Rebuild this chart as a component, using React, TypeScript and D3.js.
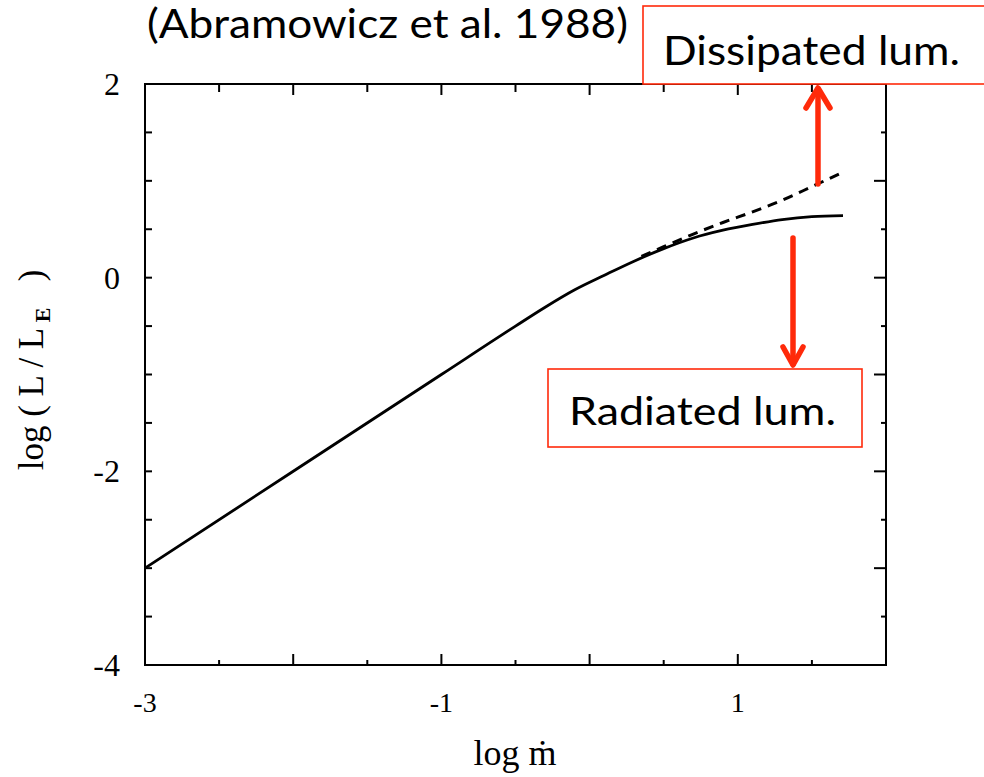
import React from "react";
import * as d3 from "d3";

const solidX = [-3, -1, -0.5, -0.3, -0.1, 0.1, 0.3, 0.5, 0.7, 0.9, 1.1, 1.3, 1.5, 1.71];
const solidY = [-3, -1, -0.5, -0.305, -0.125, 0.025, 0.17, 0.3, 0.41, 0.49, 0.55, 0.6, 0.63, 0.64];
const dashX = [0.35, 0.5, 0.7, 0.9, 1.1, 1.3, 1.5, 1.71];
const dashY = [0.22, 0.32, 0.45, 0.57, 0.68, 0.8, 0.94, 1.09];
const xTickVals = [-3, -2.5, -2, -1.5, -1, -0.5, 0, 0.5, 1, 1.5, 2];
const xTickLabels = ["-3", "-1", "1"];
const yTickVals = [-4, -3.5, -3, -2.5, -2, -1.5, -1, -0.5, 0, 0.5, 1, 1.5, 2];
const yTickLabels = ["-4", "-2", "0", "2"];

const W = 984, H = 777;
const serif = "'Liberation Serif', 'DejaVu Serif', serif";
const sans = "Lato, 'Open Sans', sans-serif";
const RED = "#ff2a0a";

export default function App() {
  const x = d3.scaleLinear().domain([-3, 2]).range([145, 886]);
  const y = d3.scaleLinear().domain([-4, 2]).range([665, 84]);
  const line = d3.line<[number, number]>().x(d => x(d[0])).y(d => y(d[1])).curve(d3.curveMonotoneX);
  const solid = solidX.map((v, i) => [v, solidY[i]] as [number, number]);
  const dashed = dashX.map((v, i) => [v, dashY[i]] as [number, number]);
  const isInt = (v: number) => Math.abs(v - Math.round(v)) < 1e-9;

  return (
    <svg width={W} height={H} style={{ position: "absolute", left: 0, top: 0, background: "#fff" }}>
      <rect x={0} y={0} width={W} height={H} fill="#fff" />
      <rect x={x(-3)} y={y(2)} width={x(2) - x(-3)} height={y(-4) - y(2)} fill="none" stroke="#000" strokeWidth={2} />
      {xTickVals.map(v => (
        <g key={"xt" + v}>
          <line x1={x(v)} x2={x(v)} y1={y(-4)} y2={y(-4) - (isInt(v) ? 11 : 5)} stroke="#000" strokeWidth={2} />
          <line x1={x(v)} x2={x(v)} y1={y(2)} y2={y(2) + (isInt(v) ? 11 : 8)} stroke="#000" strokeWidth={2} />
        </g>
      ))}
      {yTickVals.map(v => (
        <g key={"yt" + v}>
          <line x1={x(-3)} x2={x(-3) + 7} y1={y(v)} y2={y(v)} stroke="#000" strokeWidth={2} />
          <line x1={x(2)} x2={x(2) - (isInt(v) ? 12 : 5)} y1={y(v)} y2={y(v)} stroke="#000" strokeWidth={2} />
        </g>
      ))}
      {xTickLabels.map(t => (
        <text key={"xl" + t} x={x(+t)} y={712} textAnchor="middle" fontFamily={serif} fontSize={28} fill="#000">{t}</text>
      ))}
      {yTickLabels.map(t => (
        <text key={"yl" + t} x={120} y={y(+t) + 11} textAnchor="end" fontFamily={serif} fontSize={32} fill="#000">{t}</text>
      ))}
      <text x={515} y={765} textAnchor="middle" fontFamily={serif} fontSize={36} fill="#000">log ṁ</text>
      <text transform="translate(43,370) rotate(-90)" textAnchor="middle" fontFamily={serif} fontSize={35} fill="#000" xmlSpace="preserve">
        log ( L / L<tspan fontSize={22} fontWeight="bold" dy={7}> E</tspan><tspan dy={-7}>   )</tspan>
      </text>
      <path d={line(solid) || ""} fill="none" stroke="#000" strokeWidth={2.8} />
      <path d={line(dashed) || ""} fill="none" stroke="#000" strokeWidth={3} strokeDasharray="10 7" />
      <text x={147} y={38} fontFamily={sans} fontSize={40} fill="#000" textLength={481} lengthAdjust="spacingAndGlyphs">(Abramowicz et al. 1988)</text>
      <rect x={643} y={6} width={360} height={78} fill="#fff" stroke={RED} strokeWidth={1.6} />
      <text x={663} y={65} fontFamily={sans} fontSize={41} fill="#000" textLength={297} lengthAdjust="spacingAndGlyphs">Dissipated lum.</text>
      <rect x={548} y={369} width={314} height={78} fill="#fff" stroke={RED} strokeWidth={1.6} />
      <text x={569} y={425} fontFamily={sans} fontSize={39} fill="#000" textLength={267} lengthAdjust="spacingAndGlyphs">Radiated lum.</text>
      <g stroke={RED} strokeWidth={5.5} strokeLinecap="round" strokeLinejoin="round" fill="none">
        <line x1={818} y1={184} x2={818} y2={89} />
        <polyline points="806,108 818,88 830,108" />
        <line x1={793} y1={238} x2={793} y2={364} />
        <polyline points="783,347 793,365 803,347" />
      </g>
    </svg>
  );
}
